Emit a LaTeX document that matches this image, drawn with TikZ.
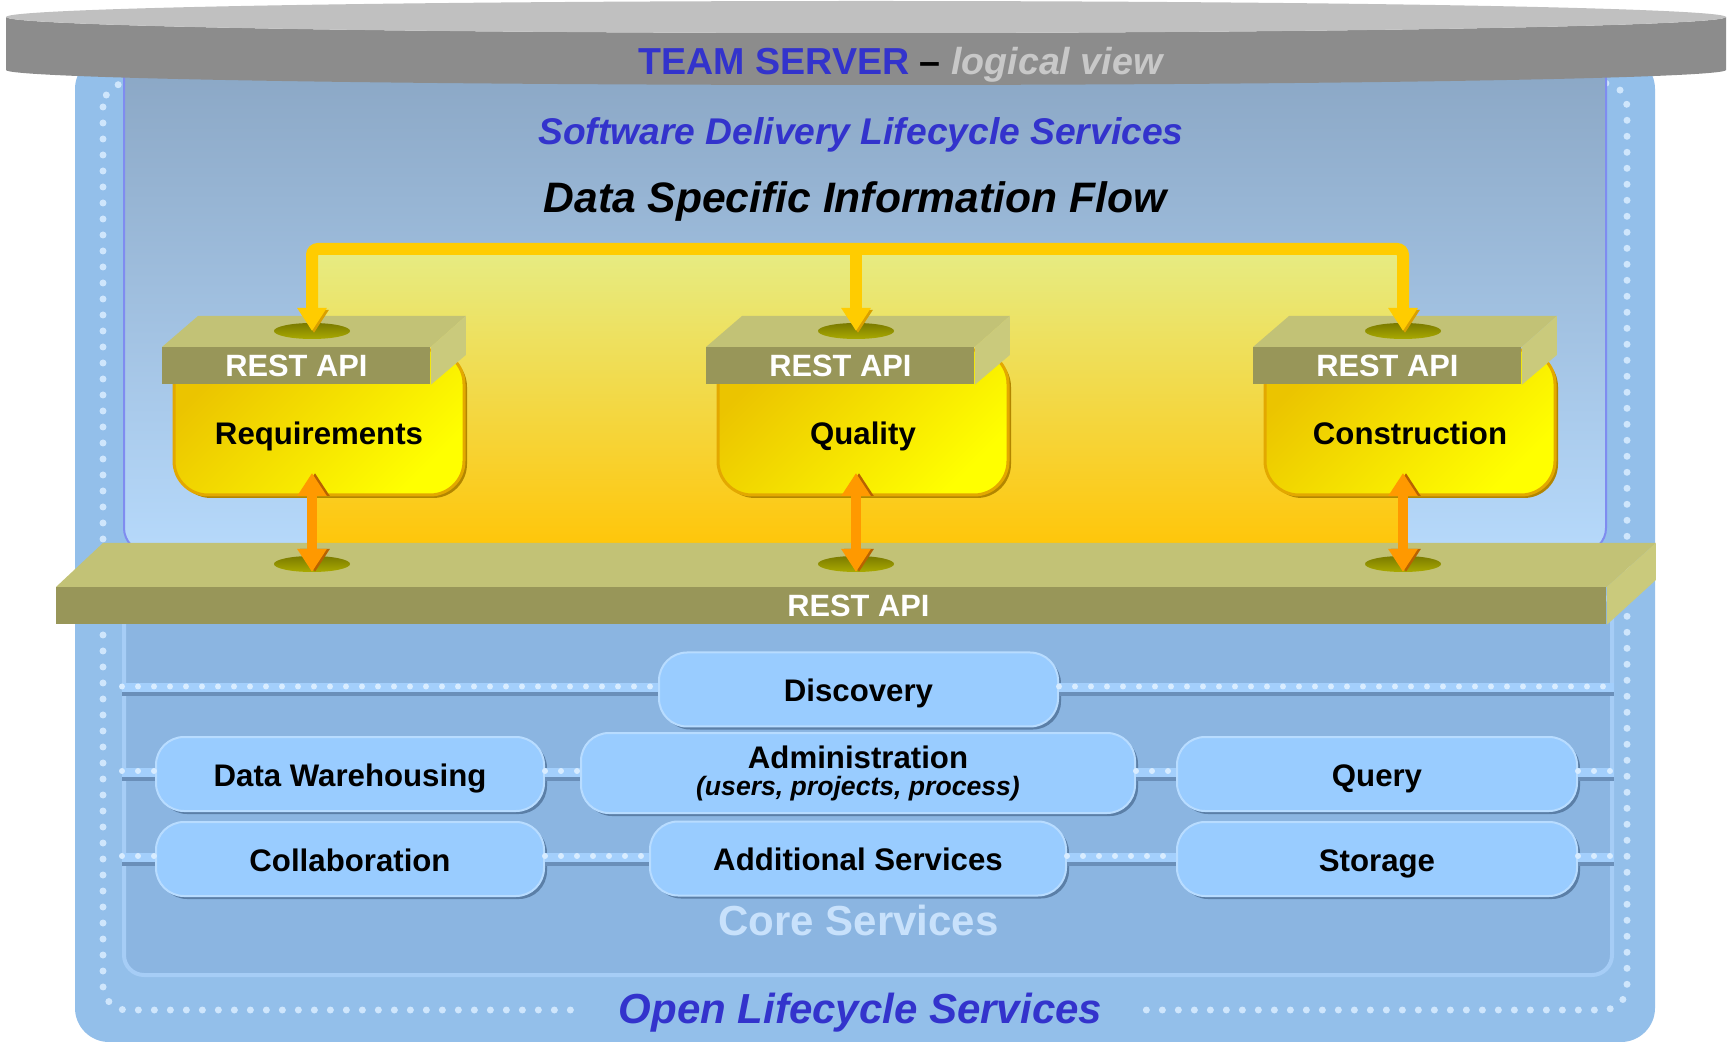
\documentclass[tikz,border=0pt]{standalone}
\usepackage{fontspec}
\setmainfont{Liberation Sans}
\usetikzlibrary{shapes.geometric, arrows.meta, positioning}

\definecolor{teamblue}{HTML}{3333CC}
\definecolor{viewgray}{HTML}{C8C8C8}
\definecolor{disktop}{HTML}{C0C0C0}
\definecolor{diskside}{HTML}{8C8C8C}
\definecolor{outerblue}{HTML}{93BFEA}
\definecolor{dotblue}{HTML}{CFE6FC}
\definecolor{sdltop}{HTML}{8AA6C4}
\definecolor{sdlbot}{HTML}{B6D9FB}
\definecolor{sdlline}{HTML}{7F8CF0}
\definecolor{flowtop}{HTML}{E6EC84}
\definecolor{flowmid}{HTML}{F4DE58}
\definecolor{flowbot}{HTML}{FFC60A}
\definecolor{busyellow}{HTML}{FFCC00}
\definecolor{busedge}{HTML}{D9A000}
\definecolor{compdark}{HTML}{EBC400}
\definecolor{complight}{HTML}{FFFF00}
\definecolor{compedge}{HTML}{E3A800}
\definecolor{compshade}{HTML}{B38600}
\definecolor{olivetop}{HTML}{C2C276}
\definecolor{olivefront}{HTML}{989659}
\definecolor{oliveside}{HTML}{CACA7C}
\definecolor{holedark}{HTML}{7A7A00}
\definecolor{holelight}{HTML}{AAAA00}
\definecolor{ioorange}{HTML}{FF9900}
\definecolor{ioshade}{HTML}{B86200}
\definecolor{corefill}{HTML}{8BB5E1}
\definecolor{coreedge}{HTML}{A6CDF6}
\definecolor{corelabel}{HTML}{C8E1FB}
\definecolor{pillblue}{HTML}{99CCFF}
\definecolor{pilledge}{HTML}{B8DCFF}
\definecolor{pillshade}{HTML}{5B7FA7}
\definecolor{trackblue}{HTML}{A3CFFC}
\definecolor{trackdot}{HTML}{D8ECFF}
\definecolor{trackdark}{HTML}{6A8FB9}

\begin{document}
\begin{tikzpicture}[x=0.5pt, y=-0.5pt,
    heading/.style={anchor=base, font=\bfseries\itshape\fontsize{18.6}{22}\selectfont},
    api/.style={fill=olivefront, text=white, inner sep=0pt, minimum width=134pt, minimum height=18.5pt, font=\bfseries\fontsize{15.4}{18}\selectfont},
    comp/.style={rounded corners=17pt, top color=compdark, bottom color=complight, shading angle=45, draw=compedge, line width=1.5pt, outer sep=0pt, minimum width=145pt, minimum height=72.5pt, inner sep=0pt, text height=26.5pt, text depth=4pt, font=\bfseries\fontsize{15.6}{18}\selectfont, preaction={fill=compshade, transform canvas={shift={(1.5pt,-1.5pt)}}}},
    hole/.style={ellipse, minimum width=38pt, minimum height=8pt, inner sep=0pt, top color=holedark, bottom color=holelight},
    bus/.style={draw=busyellow, line width=6pt, rounded corners=3pt, preaction={draw=busedge, transform canvas={shift={(1pt,-1pt)}}}},
    io/.style={draw=ioorange, line width=5pt, {Triangle[length=11.5pt, width=14pt]}-{Triangle[length=11.5pt, width=14pt]}, preaction={draw=ioshade, transform canvas={xshift=1.5pt}}},
    pill/.style={rounded corners=14pt, minimum height=37pt, inner sep=2pt, text height=15.5pt, text depth=3.3pt, fill=pillblue, draw=pilledge, line width=1pt, font=\bfseries\fontsize{15.6}{18}\selectfont, preaction={fill=pillshade, transform canvas={shift={(1.5pt,-1.5pt)}}}},
    track/.style={preaction={draw=trackdark, line width=2pt, transform canvas={yshift=-2.5pt}}, preaction={draw=trackblue, line width=4.5pt, transform canvas={yshift=1pt}}, postaction={draw=trackdot, line width=3pt, line cap=round, dash pattern=on 0pt off 8pt, transform canvas={yshift=1.5pt}}}
  ]
  \fill[white] (0,0) rectangle (1730,1042);
  \useasboundingbox (0,0) rectangle (1730,1042);

  % server body and service frames
  \fill[outerblue, rounded corners=17pt] (75,55) rectangle (1655,1042);
  \draw[dotblue, line width=3.5pt, line cap=round, dash pattern=on 0pt off 8pt, rounded corners=12pt] (103,83) rectangle (1627,1010);
  \path[top color=sdltop, bottom color=sdlbot, draw=sdlline, line width=1pt, rounded corners=12pt] (124,55) rectangle (1606,552);
  \shade[top color=flowtop, middle color=flowmid, bottom color=flowbot] (312,249) rectangle (1406,545);

  % team server lid
  \fill[diskside] (6,17) -- (6,70) arc[start angle=180, end angle=360, x radius=430pt, y radius=7.5pt] -- (1726,17) arc[start angle=0, end angle=-180, x radius=430pt, y radius=8pt] -- cycle;
  \fill[disktop] (866,17) ellipse[x radius=430pt, y radius=8pt];

  \node[anchor=base, font=\bfseries\fontsize{18.8}{22}\selectfont] (title) at (900.5,75) {\textcolor{teamblue}{TEAM SERVER} – \textcolor{viewgray}{\itshape logical view}};
  \node[heading, text=teamblue] (sdls) at (861,145) {Software Delivery Lifecycle Services};
  \node[heading, font=\bfseries\itshape\fontsize{21.3}{25}\selectfont] (dsif) at (855,213) {Data Specific Information Flow};

  % core services
  \node[draw=coreedge, fill=corefill, line width=2pt, rounded corners=10pt, anchor=north west, minimum width=744pt, minimum height=191.5pt] (core) at (122,590) {};
  \node[anchor=base, text=corelabel, font=\bfseries\fontsize{21}{25}\selectfont] (core-lbl) at (858.5,935) {Core Services};

  \node[pill, minimum width=199.5pt] (disc) at (858.5,689.5) {Discovery};
  \node[pill, minimum width=194pt] (dw) at (350,774) {Data Warehousing};
  \node[pill, minimum width=277pt, minimum height=40pt, text height=, text depth=, align=center] (admin) at (858,773) {Administration\\[-4.5pt]{\itshape\fontsize{13.3}{15}\selectfont (users, projects, process)}};
  \node[pill, minimum width=200pt, right of=dw, node distance=513.5pt] (query) {Query};
  \node[pill, minimum width=194pt, below of=dw, node distance=42.5pt] (collab) {Collaboration};
  \node[pill, minimum width=208pt, below of=admin, node distance=42.75pt] (addl) {Additional Services};
  \node[pill, minimum width=200pt, below of=query, node distance=42.5pt] (store) {Storage};

  \path[track] (core.west |- disc) -- (disc.west) (disc.east) -- (core.east |- disc);
  \path[track] (core.west |- dw) -- (dw.west) (dw.east) -- (admin.west |- dw) (admin.east |- query) -- (query.west) (query.east) -- (core.east |- query);
  \path[track] (core.west |- collab) -- (collab.west) (collab.east) -- (addl.west |- collab) (addl.east |- store) -- (store.west) (store.east) -- (core.east |- store);

  % REST API bar
  \node[api, anchor=north west, minimum width=775pt] (bar) at (56,587) {\hspace*{27pt}REST API};
  \fill[olivetop] (bar.north west) -- ++(47,-44) -- ([shift={(49,-44)}]bar.north east) -- (bar.north east) -- cycle;
  \fill[oliveside] (bar.north east) -- ++(49,-44) -- ++(0,37) -- (bar.south east) -- cycle;

  % lifecycle components
  \node[comp] (req) at (319,422.5) {Requirements};
  \node[comp, right=127pt of req] (qual) {Quality};
  \node[comp, right=128.5pt of qual] (cons) {Construction};

  \node[api, anchor=north west] (req-api) at ([xshift=-6pt, yshift=1.5pt]req.north west) {REST API};
  \fill[olivetop] (req-api.north west) -- ++(36,-31) -- ([shift={(35,-31)}]req-api.north east) -- (req-api.north east) -- cycle;
  \fill[oliveside] (req-api.north east) -- ++(35,-31) -- ++(0,39) -- (req-api.south east) -- cycle;
  \node[hole] (req-hole) at ([xshift=75pt, yshift=8pt]req-api.north west) {};

  \node[api, anchor=north west] (qual-api) at ([xshift=-6pt, yshift=1.5pt]qual.north west) {REST API};
  \fill[olivetop] (qual-api.north west) -- ++(36,-31) -- ([shift={(35,-31)}]qual-api.north east) -- (qual-api.north east) -- cycle;
  \fill[oliveside] (qual-api.north east) -- ++(35,-31) -- ++(0,39) -- (qual-api.south east) -- cycle;
  \node[hole] (qual-hole) at ([xshift=75pt, yshift=8pt]qual-api.north west) {};

  \node[api, anchor=north west] (cons-api) at ([xshift=-6pt, yshift=1.5pt]cons.north west) {REST API};
  \fill[olivetop] (cons-api.north west) -- ++(36,-31) -- ([shift={(35,-31)}]cons-api.north east) -- (cons-api.north east) -- cycle;
  \fill[oliveside] (cons-api.north east) -- ++(35,-31) -- ++(0,39) -- (cons-api.south east) -- cycle;
  \node[hole] (cons-hole) at ([xshift=75pt, yshift=8pt]cons-api.north west) {};

  \coordinate (bus) at (0,249);
  \coordinate (port-line) at (0,564);
  \node[hole] (req-port) at (req-hole |- port-line) {};
  \node[hole] (qual-port) at (qual-hole |- port-line) {};
  \node[hole] (cons-port) at (cons-hole |- port-line) {};

  % information flow
  \draw[bus, {Triangle[length=11.5pt, width=14pt]}-{Triangle[length=11.5pt, width=14pt]}] (req-hole.center) |- (qual-hole |- bus) -| (cons-hole.center);
  \draw[bus, -{Triangle[length=11.5pt, width=14pt]}] (qual-hole |- bus) -- (qual-hole.center);

  \draw[io] ([yshift=11pt]req.south -| req-port) -- ([yshift=-4pt]req-port.center);
  \draw[io] ([yshift=11pt]qual.south -| qual-port) -- ([yshift=-4pt]qual-port.center);
  \draw[io] ([yshift=11pt]cons.south -| cons-port) -- ([yshift=-4pt]cons-port.center);

  \node[anchor=base, fill=outerblue, inner xsep=20pt, text=teamblue, font=\bfseries\itshape\fontsize{21}{25}\selectfont] (open-lbl) at (860.5,1023) {Open Lifecycle Services};
\end{tikzpicture}
\end{document}
